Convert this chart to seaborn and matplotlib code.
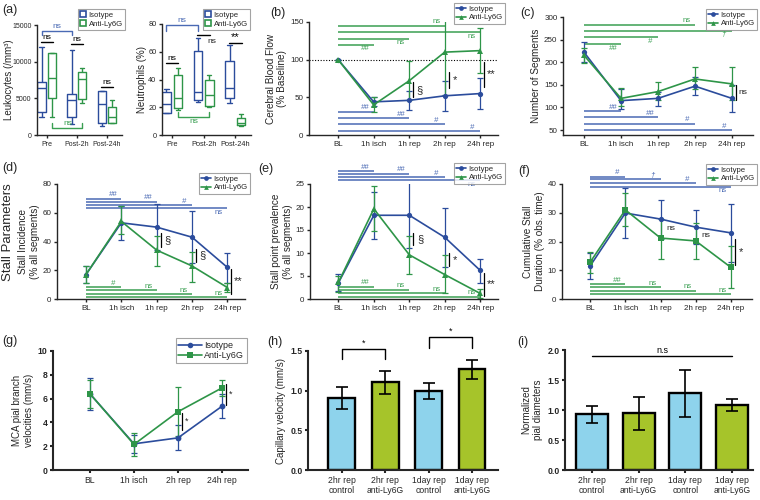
import numpy as np
import pandas as pd
import matplotlib
matplotlib.use("Agg")
import matplotlib.pyplot as plt
import seaborn as sns
from matplotlib.lines import Line2D
from matplotlib.patches import Patch

W, H = 760, 500

BLUE = "#2b4c9c"
GREEN = "#2e9548"
BLUE_SIG = "#4a6ab4"
GREEN_SIG = "#3a9f52"
BAR_BLUE = "#8ed3ec"
BAR_GREEN = "#a6c42a"

groups = ["Isotype", "Anti-Ly6G"]

# (a) blood counts: five-number summaries [min, q1, median, q3, max]
times_a = ["Pre", "Post-2h", "Post-24h"]
leuko_iso = [[2500, 3200, 6400, 7200, 12000], [1500, 2400, 4800, 5600, 11600], [1200, 1600, 4200, 6000, 6000]]
leuko_anti = [[2500, 5100, 7800, 11200, 11200], [4400, 4950, 7600, 8550, 9200], [1600, 1700, 2400, 3850, 4750]]
neutro_iso = [[15.5, 16, 22, 31, 33], [24, 25, 31, 60.5, 70], [23, 27, 34, 53.5, 65]]
neutro_anti = [[18, 19.5, 27, 43, 48], [20, 21, 28.5, 39.5, 43], [6.5, 7.2, 9, 12, 15]]

# (b)-(f) imaging time points
time_pts = ["BL", "1h isch", "1h rep", "2h rep", "24h rep"]

cbf_iso = [100, 44, 46, 52, 55]
cbf_iso_lo = [100, 38, 33, 32, 34]
cbf_iso_hi = [100, 50, 58, 72, 76]
cbf_anti = [100, 40, 72, 110, 112]
cbf_anti_lo = [100, 30, 46, 53, 82]
cbf_anti_hi = [100, 50, 98, 166, 142]
cbf_sig_green = [(3, 145, "ns", "a"), (4, 137, "ns", "b"), (2, 128, "ns", "b"), (1, 120, "##", "b")]
cbf_sig_blue = [(1, 31, "##", "a"), (2, 22, "##", "a"), (3, 14, "#", "a"), (4, 5, "#", "a")]
cbf_comp = [(2, 50, 70, "§"), (3, 63, 84, "*"), (4, 64, 97, "**")]

seg_iso = [222, 115, 120, 147, 120]
seg_iso_lo = [200, 97, 103, 127, 89]
seg_iso_hi = [245, 140, 135, 167, 150]
seg_anti = [215, 120, 135, 163, 152]
seg_anti_lo = [199, 103, 117, 140, 117]
seg_anti_hi = [232, 142, 157, 190, 189]
seg_sig_green = [(3, 283, "ns", "a"), (4, 270, "†", "b"), (2, 255, "#", "b"), (1, 241, "##", "b")]
seg_sig_blue = [(1, 92, "##", "a"), (2, 78, "##", "a"), (3, 64, "#", "a"), (4, 50, "#", "a")]
seg_comp = [(4, 117, 150, "ns")]

inc_iso = [17, 53, 50, 43, 22]
inc_iso_lo = [11, 41, 34, 25, 11]
inc_iso_hi = [23, 65, 66, 61, 32]
inc_anti = [17, 54, 34, 23, 8]
inc_anti_lo = [11, 45, 23, 12, 5]
inc_anti_hi = [23, 65, 44, 33, 11]
inc_sig_blue = [(1, 69.7, "##", "a"), (2, 67.8, "##", "a"), (3, 65.4, "#", "a"), (4, 63, "ns", "b")]
inc_sig_green = [(1, 8.2, "#", "a"), (2, 6.3, "ns", "a"), (3, 3.5, "ns", "a"), (4, 1.2, "ns", "a")]
inc_comp = [(2, 36, 45.6, "§"), (3, 25.7, 35, "§"), (4, 3.5, 21, "**")]

prev_iso = [3.5, 18.2, 18.2, 13.4, 6.2]
prev_iso_lo = [1.8, 13, 11, 7, 3.5]
prev_iso_hi = [5.5, 23.2, 25.5, 19.8, 8.7]
prev_anti = [3.6, 19.6, 9.6, 5.3, 1.2]
prev_anti_lo = [1.5, 14.7, 5.4, 1.4, 0.3]
prev_anti_hi = [5.0, 24.5, 13.8, 9.5, 2.2]
prev_sig_blue = [(1, 27.8, "##", "a"), (2, 27.2, "##", "a"), (3, 26.5, "#", "a"), (4, 25.9, "ns", "b")]
prev_sig_green = [(1, 2.7, "##", "a"), (2, 2.0, "ns", "a"), (3, 1.3, "ns", "a"), (4, 0.5, "ns", "a")]
prev_comp = [(2, 11.8, 14.3, "§"), (3, 7.1, 10, "*"), (4, 0.6, 5.7, "**")]

dur_iso = [11.5, 29.9, 27.8, 25, 23]
dur_iso_lo = [7, 21.3, 21, 19, 13]
dur_iso_hi = [16, 38.5, 34.6, 31, 33]
dur_anti = [12.8, 31, 21.2, 20.2, 11]
dur_anti_lo = [9, 25.5, 14, 14, 3.7]
dur_anti_hi = [16.3, 37, 28, 26.5, 18.5]
dur_sig_blue = [(1, 42.6, "#", "a"), (2, 41.6, "†", "a"), (3, 40.2, "#", "a"), (4, 39.1, "ns", "b")]
dur_sig_green = [(1, 5.2, "##", "a"), (2, 4.1, "ns", "a"), (3, 2.9, "ns", "a"), (4, 1.7, "ns", "a")]
dur_comp = [(2, 24.5, 24.5, "ns"), (3, 22.2, 22.2, "ns"), (4, 11.9, 20.8, "*")]

# (g) MCA pial branch velocities
vel_pts = ["BL", "1h isch", "2h rep", "24h rep"]
vel_iso = [6.4, 2.2, 2.7, 5.36]
vel_iso_lo = [5.05, 1.4, 1.65, 4.35]
vel_iso_hi = [7.7, 2.9, 3.75, 6.4]
vel_anti = [6.4, 2.15, 4.9, 6.9]
vel_anti_lo = [5.25, 1.15, 2.85, 6.2]
vel_anti_hi = [7.55, 3.15, 6.95, 7.6]
vel_comp = [(2, 3.4, 4.8, "*"), (3, 5.45, 7.2, "*")]

# (h), (i) bar charts
bar_labels = ["2hr rep\ncontrol", "2hr rep\nanti-Ly6G", "1day rep\ncontrol", "1day rep\nanti-Ly6G"]
cap_vel = [0.91, 1.11, 1.00, 1.27]
cap_vel_lo = [0.77, 0.96, 0.90, 1.15]
cap_vel_hi = [1.04, 1.25, 1.10, 1.39]
pial_diam = [0.93, 0.95, 1.28, 1.09]
pial_diam_lo = [0.78, 0.67, 0.89, 0.98]
pial_diam_hi = [1.07, 1.22, 1.66, 1.18]


sns.set_style("ticks")
plt.rcParams["font.family"] = ["Liberation Sans", "DejaVu Sans"]
plt.rcParams["axes.linewidth"] = 1.0

TICK_FS = 5.8
YLAB_FS = 7.2
NOTE_FS = 5.6


def add_ax(fig, x0, y0, x1, y1):
    return fig.add_axes([x0 / W, 1 - y1 / H, (x1 - x0) / W, (y1 - y0) / H])


def style_ax(ax, lw=1.0, bold=False, size=TICK_FS):
    sns.despine(ax=ax)
    for s in ("left", "bottom"):
        ax.spines[s].set_linewidth(lw)
    ax.tick_params(length=2.5, width=lw, labelsize=size, pad=1.5)
    if bold:
        for t in ax.get_yticklabels():
            t.set_fontweight("bold")


def errbars(ax, x, vals, lo, hi, color, capsize=2.3, lw=0.9):
    yerr = [np.subtract(vals, lo), np.subtract(hi, vals)]
    ax.errorbar(x, vals, yerr=yerr, fmt="none", ecolor=color, elinewidth=lw,
                capsize=capsize, capthick=lw, zorder=1)


def line_panel(ax, cats, iso, iso_lo, iso_hi, anti, anti_lo, anti_hi, anti_marker="^", ms=3.8):
    x = np.arange(len(cats))
    df = pd.DataFrame({"x": np.tile(x, 2), "y": list(iso) + list(anti),
                       "group": np.repeat(groups, len(cats))})
    errbars(ax, x, iso, iso_lo, iso_hi, BLUE)
    errbars(ax, x, anti, anti_lo, anti_hi, GREEN)
    sns.lineplot(data=df, x="x", y="y", hue="group", style="group",
                 markers={"Isotype": "o", "Anti-Ly6G": anti_marker}, dashes=False,
                 palette=[BLUE, GREEN], errorbar=None, markersize=ms, linewidth=1.2,
                 markeredgewidth=0, legend=False, ax=ax, zorder=3)
    ax.set_xticks(x, cats)
    ax.set_xlabel("")


def sig_lines(ax, entries, color):
    for end, level, label, side in entries:
        ax.plot([0, end], [level, level], color=color, lw=1.1, clip_on=False,
                solid_capstyle="butt", zorder=0)
        up = side == "a"
        ax.annotate(label, xy=(end, level), xytext=(-6, 0.3 if up else -0.6),
                    textcoords="offset points", ha="center",
                    va="bottom" if up else "top", color=color, fontsize=NOTE_FS,
                    style="normal" if label == "ns" else "italic", annotation_clip=False)


def comp_bars(ax, entries, dx=0.11, tx=0.3, size=8):
    for i, lo, hi, label in entries:
        if hi > lo:
            ax.plot([i + dx, i + dx], [lo, hi], color="black", lw=0.9, zorder=4)
        fs = 6 if label == "ns" else size
        ax.text(i + tx, (lo + hi) / 2, label, ha="center", va="center", fontsize=fs)


def line_legend(fig, anchor, anti_marker="^", fs=5.6, hl=1.3, ms=3.4):
    handles = [Line2D([], [], color=BLUE, marker="o", ms=ms, lw=1.2, mew=0),
               Line2D([], [], color=GREEN, marker=anti_marker, ms=ms, lw=1.2, mew=0)]
    leg = fig.legend(handles, groups, loc="upper right",
                     bbox_to_anchor=(anchor[0] / W, 1 - anchor[1] / H), fontsize=fs,
                     frameon=True, fancybox=False, handlelength=hl, handletextpad=0.3,
                     borderpad=0.3, labelspacing=0.15, borderaxespad=0)
    leg.get_frame().set_edgecolor("#8c8c8c")
    leg.get_frame().set_linewidth(0.8)


def box_panel(ax, iso, anti):
    rows = []
    for t, a, b in zip(times_a, iso, anti):
        rows += [(t, "Isotype", v) for v in a]
        rows += [(t, "Anti-Ly6G", v) for v in b]
    df = pd.DataFrame(rows, columns=["time", "group", "value"])
    sns.boxplot(data=df, x="time", y="value", hue="group", fill=False, whis=(0, 100),
                palette=[BLUE, GREEN], width=0.72, gap=0.25, linewidth=1.0,
                legend=False, ax=ax)
    ax.set_xlabel("")


def bracket(ax, x0, x1, y, tip, label, color, above=True, fs=6):
    ax.plot([x0, x0, x1, x1], [tip, y, y, tip], color=color, lw=1.0, clip_on=False)
    ax.annotate(label, xy=((x0 + x1) / 2, y), xytext=(0, 0.8 if above else -1),
                textcoords="offset points", ha="center", va="bottom" if above else "top",
                color=color, fontsize=fs, annotation_clip=False)


def box_legend(fig, anchor):
    handles = [Patch(facecolor="white", edgecolor=BLUE, lw=1.2),
               Patch(facecolor="white", edgecolor=GREEN, lw=1.2)]
    leg = fig.legend(handles, groups, loc="upper right",
                     bbox_to_anchor=(anchor[0] / W, 1 - anchor[1] / H), fontsize=5.6,
                     frameon=True, fancybox=False, handlelength=0.8, handleheight=0.8,
                     handletextpad=0.3, borderpad=0.3, labelspacing=0.15, borderaxespad=0)
    leg.get_frame().set_edgecolor("#8c8c8c")
    leg.get_frame().set_linewidth(0.8)


def bar_panel(ax, vals, lo, hi, ylim, width):
    df = pd.DataFrame({"cond": bar_labels, "val": vals})
    sns.barplot(data=df, x="cond", y="val", hue="cond", saturation=1,
                palette=[BAR_BLUE, BAR_GREEN, BAR_BLUE, BAR_GREEN], edgecolor="black",
                linewidth=1.7, width=width, errorbar=None, legend=False, ax=ax)
    errbars(ax, np.arange(len(vals)), vals, lo, hi, "black", capsize=4.5, lw=1.2)
    ax.set_ylim(*ylim)
    ax.set_xlabel("")
    ax.set_yticks(np.arange(0, ylim[1] + 0.01, 0.5))
    ax.yaxis.set_major_formatter(matplotlib.ticker.FormatStrFormatter("%.1f"))


fig = plt.figure(figsize=(W / 100, H / 100), dpi=100)

# ---- (a) leukocytes / neutrophils
ax = add_ax(fig, 37, 25, 122, 135)
box_panel(ax, leuko_iso, leuko_anti)
ax.set_xlim(-0.33, 2.5)
ax.set_ylim(0, 15000)
ax.set_yticks([0, 5000, 10000, 15000])
ax.set_ylabel("Leukocytes (/mm³)", fontsize=7, labelpad=1)
style_ax(ax, size=5)
ax.yaxis.set_label_coords(-0.27, 0.5)
bracket(ax, -0.18, 0.82, 14200, 13600, "ns", BLUE_SIG)
bracket(ax, -0.2, 0.2, 12700, 12700, "ns", "black")
bracket(ax, 0.8, 1.2, 12400, 12400, "ns", "black")
bracket(ax, 1.8, 2.2, 6500, 6500, "ns", "black")
bracket(ax, 0.18, 1.18, 1000, 1600, "ns", GREEN_SIG)
box_legend(fig, (125, 9))

ax = add_ax(fig, 162, 24, 251, 135)
box_panel(ax, neutro_iso, neutro_anti)
ax.set_xlim(-0.32, 2.5)
ax.set_ylim(0, 80)
ax.set_yticks([0, 20, 40, 60, 80])
ax.set_ylabel("Neutrophils (%)", fontsize=7, labelpad=1)
style_ax(ax, size=5.3)
bracket(ax, -0.18, 0.82, 79.3, 75, "ns", BLUE_SIG)
bracket(ax, -0.2, 0.2, 51.6, 51.6, "ns", "black")
ax.plot([0.8, 1.2], [72, 72], color="black", lw=1.0)
ax.text(1.25, 70, "ns", fontsize=6, va="top", ha="center")
bracket(ax, 1.8, 2.2, 66, 66, "**", "black", fs=8)
bracket(ax, 0.18, 1.18, 13.2, 16.3, "ns", GREEN_SIG, above=False)
box_legend(fig, (250, 9))

# ---- (b) cerebral blood flow
ax = add_ax(fig, 309, 22, 498, 135)
line_panel(ax, time_pts, cbf_iso, cbf_iso_lo, cbf_iso_hi, cbf_anti, cbf_anti_lo, cbf_anti_hi)
ax.axhline(100, color="black", ls=(0, (1, 1.5)), lw=0.8, zorder=0)
ax.set_xlim(-0.82, 4.5)
ax.set_ylim(0, 150)
ax.set_yticks([0, 50, 100, 150])
ax.set_ylabel("Cerebral Blood Flow\n(% Baseline)", fontsize=YLAB_FS, labelpad=2)
style_ax(ax)
sig_lines(ax, cbf_sig_green, GREEN_SIG)
sig_lines(ax, cbf_sig_blue, BLUE_SIG)
comp_bars(ax, cbf_comp)
line_legend(fig, (505, 3))

# ---- (c) number of segments
ax = add_ax(fig, 563, 17, 753, 135)
line_panel(ax, time_pts, seg_iso, seg_iso_lo, seg_iso_hi, seg_anti, seg_anti_lo, seg_anti_hi)
ax.set_xlim(-0.57, 4.57)
ax.set_ylim(39, 300)
ax.set_yticks([50, 100, 150, 200, 250, 300])
ax.set_ylabel("Number of Segments", fontsize=YLAB_FS, labelpad=2)
style_ax(ax)
sig_lines(ax, seg_sig_green, GREEN_SIG)
sig_lines(ax, seg_sig_blue, BLUE_SIG)
comp_bars(ax, seg_comp)
line_legend(fig, (757, 9))

# ---- (d) stall incidence
ax = add_ax(fig, 57, 184, 245, 299)
line_panel(ax, time_pts, inc_iso, inc_iso_lo, inc_iso_hi, inc_anti, inc_anti_lo, inc_anti_hi)
ax.set_xlim(-0.82, 4.5)
ax.set_ylim(0, 80)
ax.set_yticks([0, 20, 40, 60, 80])
ax.set_ylabel("Stall Incidence\n(% all segments)", fontsize=YLAB_FS, labelpad=2)
style_ax(ax)
sig_lines(ax, inc_sig_blue, BLUE_SIG)
sig_lines(ax, inc_sig_green, GREEN_SIG)
comp_bars(ax, inc_comp)
line_legend(fig, (250, 173))
fig.text(8 / W, 1 - 232 / H, "Stall Parameters", rotation=90, fontsize=9.5,
         ha="center", va="center")

# ---- (e) stall point prevalence
ax = add_ax(fig, 310, 184, 498, 299)
line_panel(ax, time_pts, prev_iso, prev_iso_lo, prev_iso_hi, prev_anti, prev_anti_lo, prev_anti_hi)
ax.set_xlim(-0.8, 4.5)
ax.set_ylim(0, 25)
ax.set_yticks([0, 5, 10, 15, 20, 25])
ax.set_ylabel("Stall point prevalence\n(% all segments)", fontsize=YLAB_FS, labelpad=2)
style_ax(ax)
sig_lines(ax, prev_sig_blue, BLUE_SIG)
sig_lines(ax, prev_sig_green, GREEN_SIG)
comp_bars(ax, prev_comp)
line_legend(fig, (505, 163))

# ---- (f) cumulative stall duration
ax = add_ax(fig, 562, 184, 752, 299)
line_panel(ax, time_pts, dur_iso, dur_iso_lo, dur_iso_hi, dur_anti, dur_anti_lo, dur_anti_hi,
           anti_marker="s")
ax.set_xlim(-0.8, 4.6)
ax.set_ylim(0, 40)
ax.set_yticks([0, 10, 20, 30, 40])
ax.set_ylabel("Cumulative Stall\nDuration (% obs. time)", fontsize=YLAB_FS, labelpad=2)
style_ax(ax)
sig_lines(ax, dur_sig_blue, BLUE_SIG)
sig_lines(ax, dur_sig_green, GREEN_SIG)
comp_bars(ax, dur_comp)
line_legend(fig, (757, 164))

# ---- (g) MCA pial branch velocities
ax = add_ax(fig, 53, 351, 248, 470)
line_panel(ax, vel_pts, vel_iso, vel_iso_lo, vel_iso_hi, vel_anti, vel_anti_lo, vel_anti_hi,
           anti_marker="s", ms=4.2)
ax.set_xlim(-0.84, 3.59)
ax.set_ylim(0, 10)
ax.set_yticks([0, 2, 4, 6, 8, 10])
ax.set_ylabel("MCA pial branch\nvelocities (mm/s)", fontsize=7, labelpad=3)
style_ax(ax, lw=1.5, bold=True, size=6.2)
comp_bars(ax, vel_comp, dx=0.09, tx=0.19, size=6.5)
line_legend(fig, (247, 338), anti_marker="s", fs=6.5, hl=2.6, ms=4)

# ---- (h) capillary velocity
ax = add_ax(fig, 308, 351, 498, 470)
bar_panel(ax, cap_vel, cap_vel_lo, cap_vel_hi, (0, 1.5), 0.62)
ax.set_xlim(-0.78, 3.6)
ax.set_ylabel("Capillary velocity (mm/s)", fontsize=7, labelpad=3)
style_ax(ax, lw=1.5, bold=True, size=6.2)
bracket(ax, 0, 1, 1.53, 1.40, "*", "black", fs=6.5)
bracket(ax, 2, 3, 1.68, 1.54, "*", "black", fs=6.5)

# ---- (i) pial diameters
ax = add_ax(fig, 565, 350, 753, 470)
bar_panel(ax, pial_diam, pial_diam_lo, pial_diam_hi, (0, 2.0), 0.68)
ax.set_xlim(-0.58, 3.45)
ax.set_ylabel("Normalized\npial diameters", fontsize=7, labelpad=3)
style_ax(ax, lw=1.5, bold=True, size=6.2)
bracket(ax, 0, 3, 1.9, 1.9, "n.s", "black", fs=6.5)

# panel letters
for lab, px, py in [("(a)", 2, 4), ("(b)", 270, 7), ("(c)", 520, 7),
                    ("(d)", 2, 162), ("(e)", 258, 163), ("(f)", 518, 165),
                    ("(g)", 2, 335), ("(h)", 267, 336), ("(i)", 517, 336)]:
    fig.text(px / W, 1 - py / H, lab, fontsize=9, ha="left", va="top")

fig.savefig("out.png", dpi=100)
